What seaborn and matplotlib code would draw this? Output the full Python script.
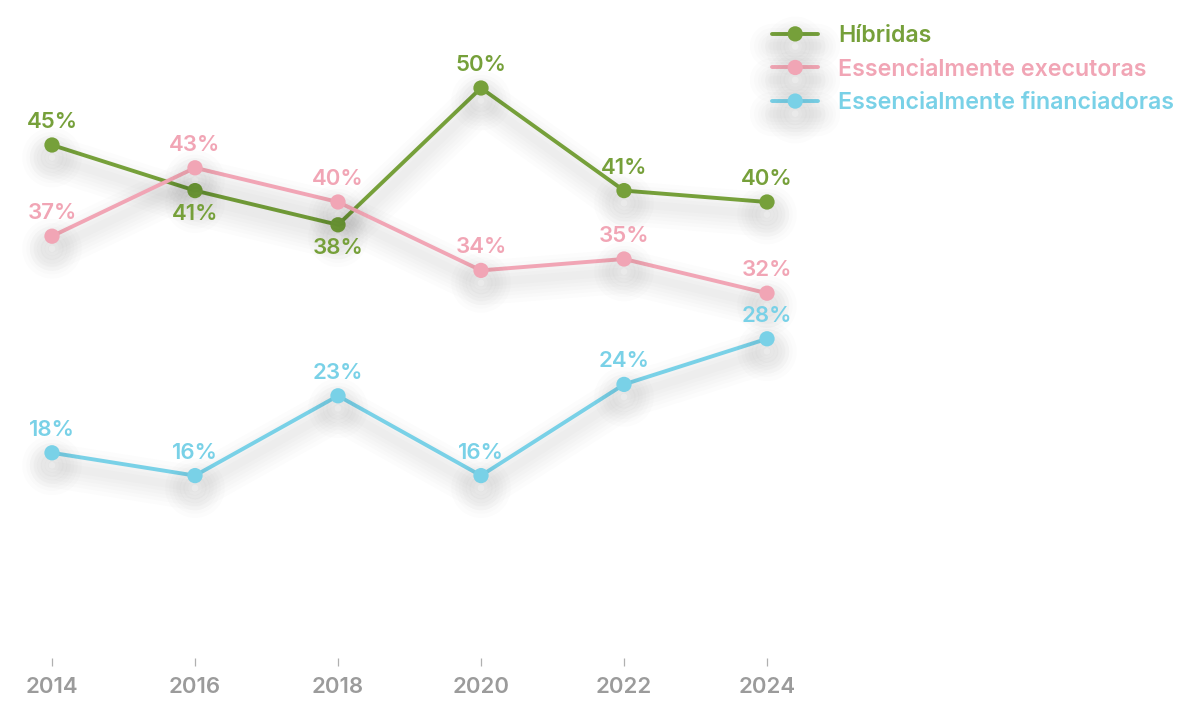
import numpy as np
import pandas as pd
import seaborn as sns
import matplotlib.pyplot as plt
import matplotlib.patheffects as pe

anos = [2014, 2016, 2018, 2020, 2022, 2024]
hibridas = [45, 41, 38, 50, 41, 40]
executoras = [37, 43, 40, 34, 35, 32]
financiadoras = [18, 16, 23, 16, 24, 28]

series = ["Híbridas", "Essencialmente executoras", "Essencialmente financiadoras"]
cores = ["#76a03a", "#f1a5b5", "#79d1e7"]
# label above (+1) or below (-1) each point
posicoes = [[1, -1, -1, 1, 1, 1],
            [1, 1, 1, 1, 1, 1],
            [1, 1, 1, 1, 1, 1]]

df = pd.DataFrame({
    "ano": anos * 3,
    "pct": hibridas + executoras + financiadoras,
    "tipo": [s for s in series for _ in anos],
})

sns.set_theme(style="white")
plt.rcParams["font.family"] = ["Inter", "DejaVu Sans"]

fig = plt.figure(figsize=(12, 7.16), dpi=100)
ax = fig.add_axes([0, 58 / 716, 1, 658 / 716])

sns.lineplot(data=df, x="ano", y="pct", hue="tipo", hue_order=series,
             palette=cores, marker="o", markersize=11, markeredgewidth=0,
             linewidth=2.8, ax=ax)

# soft drop shadow under the lines
sombra = [pe.SimpleLineShadow(offset=(0, -9), shadow_color="black", alpha=0.011, linewidth=w)
          for w in (6, 11, 16, 21, 26, 32)] + [pe.Normal()]
for ln in ax.lines:
    ln.set_path_effects(sombra)

for vals, cor, pos in zip([hibridas, executoras, financiadoras], cores, posicoes):
    for x, y, p in zip(anos, vals, pos):
        ax.annotate(f"{y}%", (x, y), xytext=(0, 16.5 * p), textcoords="offset points",
                    ha="center", va="center", fontsize=16, color=cor, fontweight="semibold")

px_ano = 143 / 2
x0 = 2014 - 52 / px_ano
ax.set_xlim(x0, x0 + 1200 / px_ano)
ax.set_ylim(0, 658 / 11.4)
ax.set_xticks(anos)
ax.set_xticklabels([str(a) for a in anos])
ax.set_yticks([])
ax.set_xlabel("")
ax.set_ylabel("")
for s in ax.spines.values():
    s.set_visible(False)
ax.tick_params(axis="x", bottom=True, length=6, width=0.9, color="#b0b0b0",
               pad=8, labelsize=16, labelcolor="#9b9b9b")
for t in ax.get_xticklabels():
    t.set_fontweight("semibold")

handles, labels = ax.get_legend_handles_labels()
leg = ax.legend(handles, labels, loc="upper left", bbox_to_anchor=(772 / 1200, 1 - 25 / 716),
                bbox_transform=fig.transFigure, frameon=False, fontsize=16.7,
                borderpad=0, borderaxespad=0, handlelength=2.0, handletextpad=0.85,
                labelspacing=0.5)
for txt, cor in zip(leg.get_texts(), cores):
    txt.set_color(cor)
    txt.set_fontweight("semibold")

fig.savefig("out.png", dpi=100)
